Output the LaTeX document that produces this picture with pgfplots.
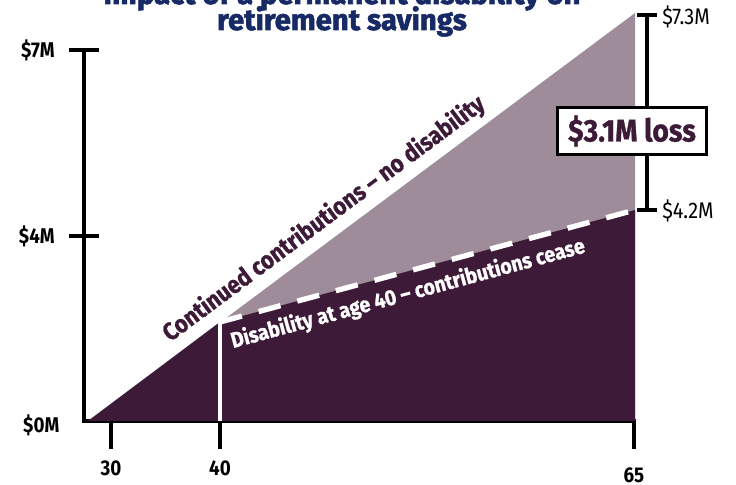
\documentclass[border=0pt]{standalone}
\usepackage{fontspec}
\setmainfont{Fira Sans}
\newfontfamily\heavyfont[FakeBold=2]{Fira Sans}
\newfontfamily\labfont[FakeStretch=0.88]{Fira Sans}
\newfontfamily\notefont[FakeStretch=0.9, FakeBold=1]{Fira Sans}
\usepackage{pgfplots}
\pgfplotsset{compat=1.18}
\definecolor{darkp}{RGB}{61,27,56}
\definecolor{lightp}{RGB}{158,140,154}
\definecolor{navy}{RGB}{24,42,102}
\begin{document}
\begin{tikzpicture}
\begin{axis}[
  scale only axis, width=412.5pt, height=278.25pt,
  xmin=0, xmax=550, ymin=0, ymax=371,
  clip=false,
  axis x line=bottom, axis y line=left,
  axis line style={line width=3pt, -, line cap=rect},
  tick align=center,
  major tick length=22pt,
  tick style={line width=3pt, black},
  xtick={27,136}, xticklabels={30,40},
  extra x ticks={550}, extra x tick labels={65},
  xtick style={yshift=-10pt},
  extra x tick style={xticklabel style={yshift=-5.5pt}},
  xticklabel style={font=\labfont\bfseries\fontsize{16}{16}\selectfont, yshift=-15pt},
  ytick={185,371}, yticklabels={\$4M,\$7M},
  extra y ticks={0}, extra y tick labels={\$0M},
  extra y tick style={major tick length=0pt, yticklabel style={yshift=-3pt, xshift=-7.5pt}},
  yticklabel style={font=\labfont\bfseries\fontsize{16}{16}\selectfont, anchor=east, xshift=-7.5pt},
]
% no disability: contributions continue to 65
\addplot[fill=lightp, draw=none] coordinates {(4,0) (551,408)} \closedcycle;
% disability at 40: contributions cease
\addplot[fill=darkp, draw=none] coordinates {(4,0) (136,99) (551,211)} \closedcycle;
\addplot[white, line width=2.25pt] coordinates {(136,0) (136,99)};
\addplot[white, line width=4pt, dash pattern=on 17pt off 13pt] coordinates {(136,99) (551,211)};

\node[rotate=36.6, text=darkp, font=\notefont\bfseries\fontsize{18.5}{18.5}\selectfont] at (axis cs:240,202) {Continued contributions – no disability};
\node[rotate=15.2, text=white, font=\notefont\bfseries\fontsize{16.3}{16.3}\selectfont] at (axis cs:324,127) {Disability at age 40 – contributions cease};

% loss bracket
\draw[line width=3pt] (axis cs:563,406) -- (axis cs:563,211);
\draw[line width=3pt] (axis cs:553,406) -- (axis cs:573,406);
\draw[line width=3pt] (axis cs:553,211) -- (axis cs:573,211);
\node[anchor=west, font=\labfont\fontsize{17}{17}\selectfont, inner sep=0pt] at (axis cs:578,404) {\$7.3M};
\node[anchor=west, font=\labfont\fontsize{17}{17}\selectfont, inner sep=0pt] at (axis cs:578,210) {\$4.2M};
\node[draw=black, line width=2.25pt, fill=white, text=darkp, minimum width=112pt, minimum height=35pt, inner sep=1pt, font=\notefont\bfseries\fontsize{23.5}{23.5}\selectfont] at (axis cs:548,290) {\$3.1M loss};

% title
\node[text=navy, font=\heavyfont\bfseries\fontsize{22}{22}\selectfont, anchor=base] at (axis cs:258,417) {Impact of a permanent disability on};
\node[text=navy, font=\heavyfont\bfseries\fontsize{22}{22}\selectfont, anchor=base] at (axis cs:258,391) {retirement savings};

\coordinate (bl) at (axis cs:-84,-64);
\coordinate (tr) at (axis cs:652,421);
\end{axis}
\pgfresetboundingbox
\useasboundingbox (bl) rectangle (tr);
\end{tikzpicture}
\end{document}
